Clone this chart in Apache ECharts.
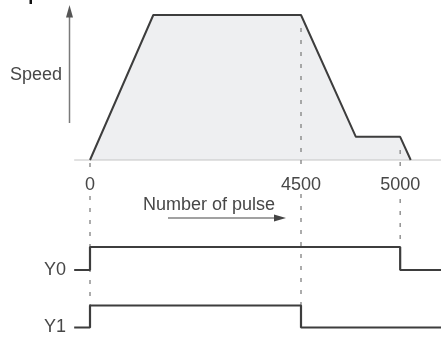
<!DOCTYPE html>
<html>
<head>
<meta charset="utf-8">
<script src="https://cdn.jsdelivr.net/npm/echarts@6/dist/echarts.min.js"></script>
<style>
  html, body { margin: 0; padding: 0; background: #fff; }
  #chart { width: 441px; height: 337px; }
</style>
</head>
<body>
<div id="chart"></div>
<script>
// Pulse-count marks along the time axis and their labels
const markTimes = [0, 100, 147];
const pulseLabels = ['0', '4500', '5000'];

// Speed profile: accelerate, run, decelerate, creep, stop
const speedTimes = [0, 30, 100, 126, 147, 152];
const speedValues = [0, 100, 100, 16, 16, 0];

// Output signals (0 = OFF, 1 = ON)
const y0Times = [-7.5, 0, 0, 147, 147, 170];
const y0Levels = [0, 0, 1, 1, 0, 0];
const y1Times = [-7.5, 0, 0, 100, 100, 170];
const y1Levels = [0, 0, 1, 1, 0, 0];
const signalNames = ['Y0', 'Y1'];

// ---- layout ----
const W = 441, H = 337;
const ORIGIN_PX = 90;      // where t = 0 sits
const PX_PER_UNIT = 2.11;
const xMin = -ORIGIN_PX / PX_PER_UNIT;
const xMax = (W - ORIGIN_PX) / PX_PER_UNIT;
const INK = '#3d3d3d';
const TEXT = '#474747';
const FONT = '"Liberation Sans", Arial, sans-serif';

// vertical extent of the dashed guides per mark (page pixels)
const guideSpans = [
  [[163, 172], [196, 306]],
  [[28, 170], [194, 306]],
  [[150, 168], [199, 247]]
];

const zip = (a, b) => a.map((v, i) => [v, b[i]]);

const guideData = [];
markTimes.forEach((t, i) => {
  guideSpans[i].forEach(([a, b]) => {
    guideData.push([t, a], [t, b], [null, null]);
  });
});

const hiddenX = (gi) => ({
  type: 'value', gridIndex: gi, min: xMin, max: xMax,
  show: false
});

const chart = echarts.init(document.getElementById('chart'), null, { renderer: 'canvas' });

chart.setOption({
  animation: false,
  backgroundColor: '#fff',
  textStyle: { fontFamily: FONT },
  grid: [
    { left: 0, right: 0, top: 15, height: 145 },
    { left: 0, right: 0, top: 247, height: 23 },
    { left: 0, right: 0, top: 305.5, height: 22 },
    { left: 0, right: 0, top: 0, bottom: 0 }
  ],
  xAxis: [
    {
      type: 'value', gridIndex: 0, min: xMin, max: xMax,
      axisLine: { show: false },
      axisTick: { show: false },
      splitLine: { show: false },
      axisLabel: {
        customValues: markTimes,
        formatter: (v) => {
          const i = markTimes.findIndex(m => Math.abs(m - v) < 1e-6);
          return i >= 0 ? pulseLabels[i] : '';
        },
        margin: 16,
        fontSize: 18,
        color: TEXT,
        fontFamily: FONT
      }
    },
    hiddenX(1), hiddenX(2), hiddenX(3)
  ],
  yAxis: [
    { type: 'value', gridIndex: 0, min: 0, max: 100, show: false },
    {
      type: 'value', gridIndex: 1, min: 0, max: 1, offset: -74,
      axisLine: { show: false }, axisTick: { show: false }, splitLine: { show: false },
      axisLabel: { customValues: [0], formatter: () => signalNames[0], margin: 8, fontSize: 18, color: TEXT, fontFamily: FONT }
    },
    {
      type: 'value', gridIndex: 2, min: 0, max: 1, offset: -74,
      axisLine: { show: false }, axisTick: { show: false }, splitLine: { show: false },
      axisLabel: { customValues: [0], formatter: () => signalNames[1], margin: 8, fontSize: 18, color: TEXT, fontFamily: FONT }
    },
    { type: 'value', gridIndex: 3, min: 0, max: H, inverse: true, show: false }
  ],
  series: [
    {
      // zero-speed baseline
      type: 'line', xAxisIndex: 0, yAxisIndex: 0, clip: false,
      data: [[-7.5, 0], [xMax, 0]],
      symbol: 'none', silent: true,
      lineStyle: { color: '#c4c4c4', width: 1 }
    },
    {
      type: 'line', xAxisIndex: 0, yAxisIndex: 0, clip: false,
      data: zip(speedTimes, speedValues),
      symbol: 'none',
      lineStyle: { color: INK, width: 2 },
      areaStyle: { color: '#eeeff1', opacity: 1, origin: 'start' }
    },
    {
      type: 'line', xAxisIndex: 3, yAxisIndex: 3, clip: false,
      data: guideData, connectNulls: false,
      symbol: 'none', silent: true,
      lineStyle: { color: '#808080', width: 1.3, type: [4, 8] }
    },
    {
      type: 'line', xAxisIndex: 1, yAxisIndex: 1, clip: false,
      data: zip(y0Times, y0Levels),
      symbol: 'none',
      lineStyle: { color: INK, width: 2.2 }
    },
    {
      type: 'line', xAxisIndex: 2, yAxisIndex: 2, clip: false,
      data: zip(y1Times, y1Levels),
      symbol: 'none',
      lineStyle: { color: INK, width: 2.2 }
    }
  ],
  graphic: [
    // speed axis arrow
    { type: 'line', shape: { x1: 69.5, y1: 123, x2: 69.5, y2: 15 }, style: { stroke: '#7a7a7a', lineWidth: 1.5 } },
    { type: 'polygon', shape: { points: [[69.5, 5], [66, 17.5], [73, 17.5]] }, style: { fill: '#555' } },
    { type: 'text', x: 36, y: 75, style: { text: 'Speed', fill: TEXT, font: '18px ' + FONT, align: 'center', verticalAlign: 'middle' } },
    // pulse direction caption and arrow
    { type: 'text', x: 209, y: 205, style: { text: 'Number of pulse', fill: TEXT, font: '18px ' + FONT, align: 'center', verticalAlign: 'middle' } },
    { type: 'line', shape: { x1: 168, y1: 218, x2: 277, y2: 218 }, style: { stroke: '#444', lineWidth: 1.2 } },
    { type: 'polygon', shape: { points: [[286, 218], [274, 214.5], [274, 221.5]] }, style: { fill: '#444' } },
    // edge of a glyph at the top border
    { type: 'rect', shape: { x: 29.5, y: 0, width: 2.5, height: 4 }, style: { fill: '#111' } }
  ]
});
</script>
</body>
</html>
